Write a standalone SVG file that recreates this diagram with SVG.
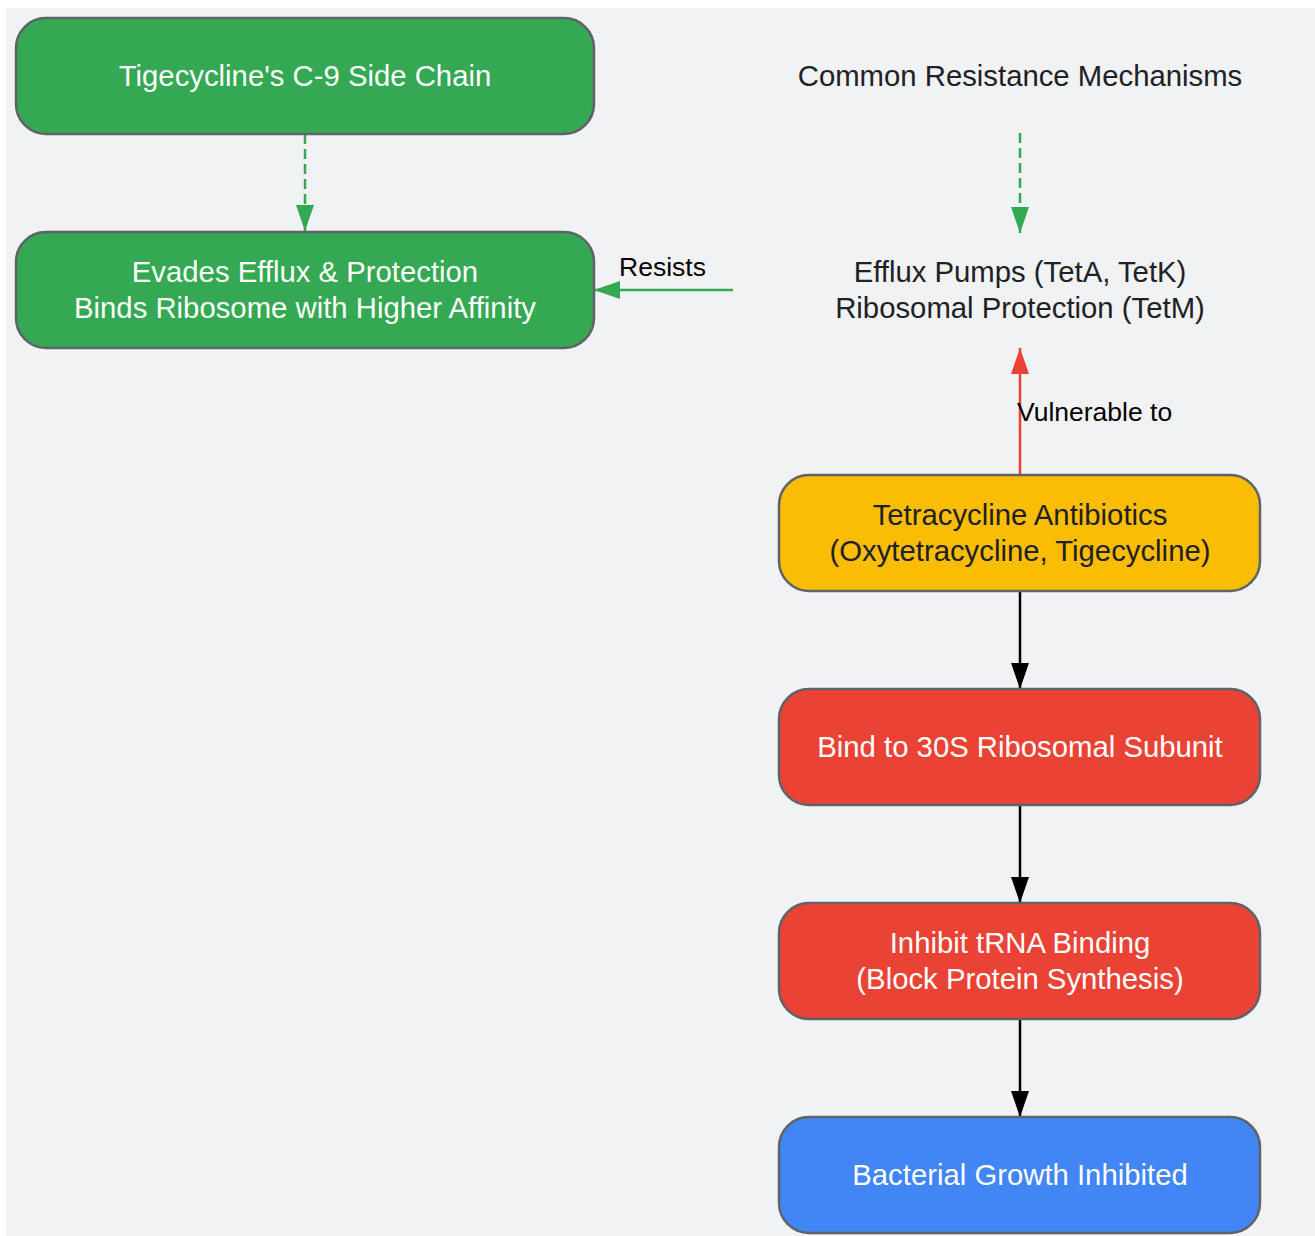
<svg xmlns="http://www.w3.org/2000/svg" width="1315" height="1236" viewBox="0 0 1315 1236">
<style>
.node rect{stroke:#5f6368;stroke-width:2.5}
.t{font-family:"Liberation Sans",Arial,sans-serif;font-size:29.3px;text-anchor:middle}
.w{fill:#ffffff}
.d{fill:#202124}
.lbl{font-family:"Liberation Sans",Arial,sans-serif;font-size:26.5px;fill:#000000}
.green{fill:#34a853}.red{fill:#ea4335}.yellow{fill:#fbbc04}.blue{fill:#4285f4}
</style>
<defs>
<marker id="hk" markerUnits="userSpaceOnUse" markerWidth="27" markerHeight="19" refX="26" refY="9" orient="auto"><path d="M0,0 L26,9 L0,18 z" fill="#000"/></marker>
<marker id="hg" markerUnits="userSpaceOnUse" markerWidth="27" markerHeight="19" refX="26" refY="9" orient="auto"><path d="M0,0 L26,9 L0,18 z" fill="#34a853"/></marker>
<marker id="hr" markerUnits="userSpaceOnUse" markerWidth="27" markerHeight="19" refX="26" refY="9" orient="auto"><path d="M0,0 L26,9 L0,18 z" fill="#ea4335"/></marker>
</defs>
<rect x="0" y="0" width="1315" height="1236" fill="#ffffff"/>
<rect x="6" y="8" width="1309" height="1228" fill="#f1f2f4"/>
<g id="connectors">
<line x1="305" y1="134" x2="305" y2="231" stroke="#34a853" stroke-width="2.5" stroke-dasharray="10,5" marker-end="url(#hg)"/>
<line x1="1020" y1="133" x2="1020" y2="233" stroke="#34a853" stroke-width="2.5" stroke-dasharray="10,5" marker-end="url(#hg)"/>
<line x1="733" y1="290" x2="594" y2="290" stroke="#34a853" stroke-width="2.5" marker-end="url(#hg)"/>
<text class="lbl" x="619" y="276">Resists</text>
<line x1="1020" y1="475" x2="1020" y2="348" stroke="#ea4335" stroke-width="2.5" marker-end="url(#hr)"/>
<text class="lbl" x="1017" y="421">Vulnerable to</text>
<line x1="1020" y1="591" x2="1020" y2="689" stroke="#000" stroke-width="2.5" marker-end="url(#hk)"/>
<line x1="1020" y1="805" x2="1020" y2="903" stroke="#000" stroke-width="2.5" marker-end="url(#hk)"/>
<line x1="1020" y1="1019" x2="1020" y2="1117" stroke="#000" stroke-width="2.5" marker-end="url(#hk)"/>
</g>
<g id="sidechain" class="node"><rect class="green" x="16" y="18" width="578" height="116" rx="30"/><text class="t w" x="305" y="86">Tigecycline's C-9 Side Chain</text></g>
<g id="evades" class="node"><rect class="green" x="16" y="232" width="578" height="116" rx="30"/><text class="t w" x="305" y="282">Evades Efflux &amp; Protection</text><text class="t w" x="305" y="318">Binds Ribosome with Higher Affinity</text></g>
<g id="common"><text class="t d" x="1020" y="86">Common Resistance Mechanisms</text></g>
<g id="efflux"><text class="t d" x="1020" y="282">Efflux Pumps (TetA, TetK)</text><text class="t d" x="1020" y="318">Ribosomal Protection (TetM)</text></g>
<g id="tetra" class="node"><rect class="yellow" x="779" y="475" width="481" height="116" rx="30"/><text class="t d" x="1020" y="525">Tetracycline Antibiotics</text><text class="t d" x="1020" y="561">(Oxytetracycline, Tigecycline)</text></g>
<g id="bind" class="node"><rect class="red" x="779" y="689" width="481" height="116" rx="30"/><text class="t w" x="1020" y="757">Bind to 30S Ribosomal Subunit</text></g>
<g id="inhibit" class="node"><rect class="red" x="779" y="903" width="481" height="116" rx="30"/><text class="t w" x="1020" y="953">Inhibit tRNA Binding</text><text class="t w" x="1020" y="989">(Block Protein Synthesis)</text></g>
<g id="growth" class="node"><rect class="blue" x="779" y="1117" width="481" height="116" rx="30"/><text class="t w" x="1020" y="1185">Bacterial Growth Inhibited</text></g>
</svg>
